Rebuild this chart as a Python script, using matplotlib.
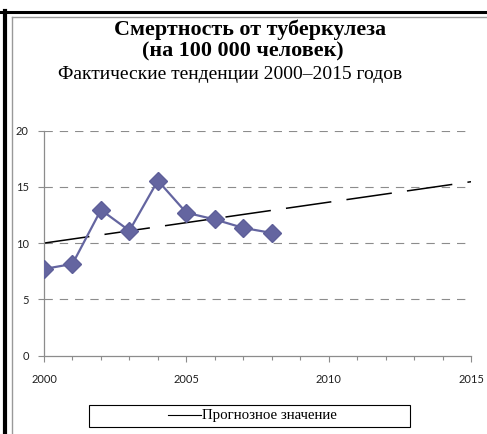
import matplotlib
matplotlib.use('Agg')
import matplotlib.pyplot as plt
from matplotlib.lines import Line2D
from matplotlib.patches import Rectangle

plt.rcParams['lines.scale_dashes'] = False

# Data
years = [2000, 2001, 2002, 2003, 2004, 2005, 2006, 2007, 2008]
deaths = [7.7, 8.15, 12.95, 11.1, 15.55, 12.7, 12.1, 11.35, 10.9]
trend_years = [2000, 2015]
trend_values = [10.0, 15.45]
xticks = [2000, 2005, 2010, 2015]
yticks = [0, 5, 10, 15, 20]

title1 = 'Смертность от туберкулеза'
title2 = '(на 100 000 человек)'
subtitle = 'Фактические тенденции 2000–2015 годов'
legend_label = 'Прогнозное значение'

W, H = 487, 434
fig = plt.figure(figsize=(W / 100, H / 100), dpi=100)

def fx(px):
    return px / W

def fy(py):
    return 1 - py / H

ax = fig.add_axes([fx(44), fy(355.7), fx(471) - fx(44), fy(130.5) - fy(355.7)])

ax.plot(trend_years, trend_values, color='black', lw=1.1,
        linestyle=(0, (33, 11)), zorder=2)
ax.plot(years, deaths, color='#6465A0', lw=1.6, marker='D', ms=9,
        markeredgecolor='#5E5F99', zorder=3)

ax.set_xlim(2000, 2015)
ax.set_ylim(0, 20)
ax.set_xticks(xticks)
ax.set_xticks(range(2000, 2016), minor=True)
ax.set_yticks(yticks)

for v in yticks[1:]:
    ax.axhline(v, color='#8C8C8C', lw=0.8, linestyle=(0, (6, 5)), zorder=1)

for s in ['top', 'right']:
    ax.spines[s].set_visible(False)
for s in ['left', 'bottom']:
    ax.spines[s].set_color('#8C8C8C')
    ax.spines[s].set_linewidth(0.9)

ax.tick_params(axis='both', which='both', color='#8C8C8C', direction='out',
               width=0.8, labelsize=8, labelcolor='#202020')
ax.tick_params(axis='both', which='major', length=4)
ax.tick_params(axis='both', which='minor', length=3)
ax.tick_params(axis='x', pad=9)
ax.tick_params(axis='y', pad=7)
for lab in ax.get_xticklabels() + ax.get_yticklabels():
    lab.set_family('Lato')

# titles
fig.text(fx(250), fy(35), title1, ha='center', va='baseline', family='Liberation Serif',
         fontweight='bold', fontsize=15.8)
fig.text(fx(243), fy(56.5), title2, ha='center', va='baseline', family='Liberation Serif',
         fontweight='bold', fontsize=15.8)
fig.text(fx(230), fy(79), subtitle, ha='center', va='baseline', family='Liberation Serif',
         fontsize=14)

# outer frame: thick black left/top, thin gray inner
fig.add_artist(Line2D([fx(0), fx(W)], [fy(12), fy(12)], transform=fig.transFigure,
                      color='black', lw=2.2))
fig.add_artist(Line2D([fx(5), fx(5)], [fy(11), fy(H)], transform=fig.transFigure,
                      color='black', lw=3.0))
fig.add_artist(Line2D([fx(11.5), fx(W)], [fy(16.5), fy(16.5)], transform=fig.transFigure,
                      color='#999999', lw=1.0))
fig.add_artist(Line2D([fx(11.5), fx(11.5)], [fy(16.5), fy(H)], transform=fig.transFigure,
                      color='#999999', lw=1.0))

# legend box
fig.add_artist(Rectangle((fx(89), fy(427)), fx(410) - fx(89), fy(405) - fy(427),
                         transform=fig.transFigure, fill=False, edgecolor='black', lw=0.8))
fig.add_artist(Line2D([fx(168), fx(201)], [fy(415), fy(415)], transform=fig.transFigure,
                      color='black', lw=0.8))
fig.text(fx(202), fy(418.5), legend_label, ha='left', va='baseline', family='Liberation Serif',
         fontsize=10.7)

fig.savefig('out.png', dpi=100)
